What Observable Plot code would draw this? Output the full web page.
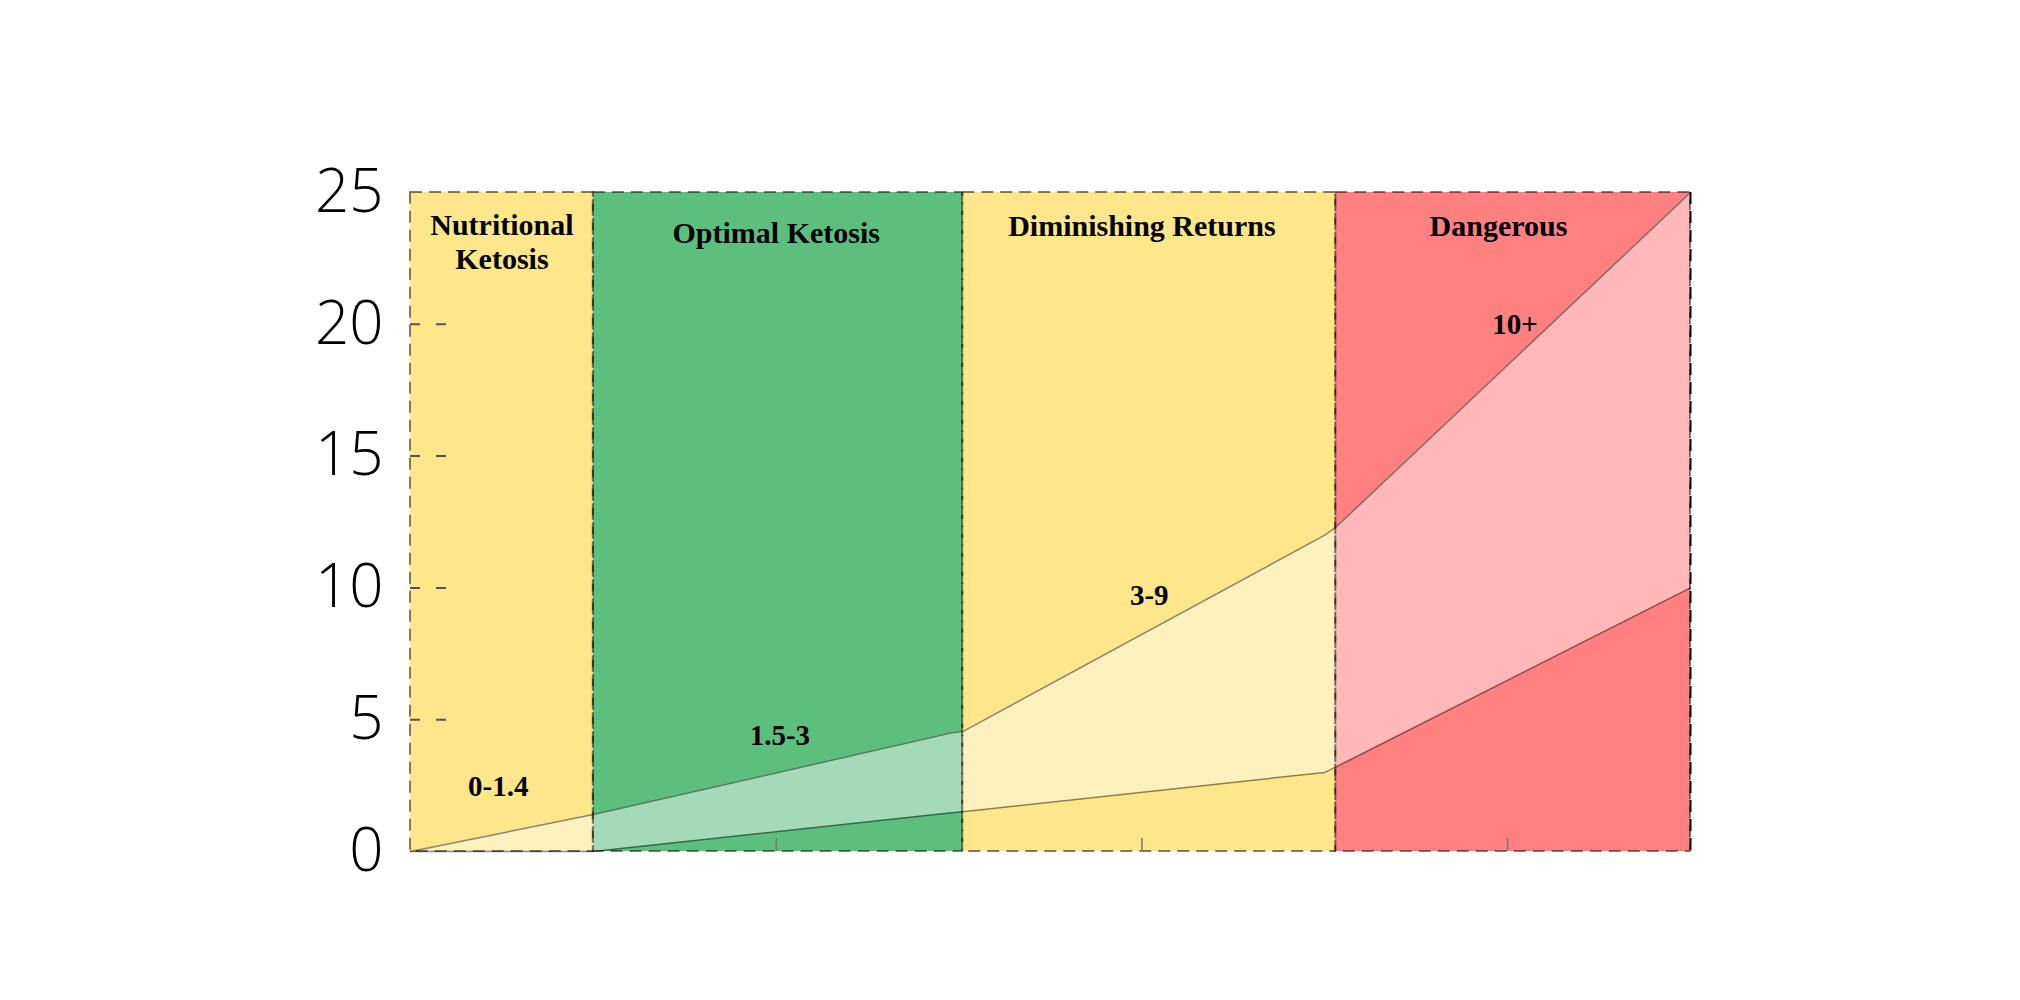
<!DOCTYPE html>
<html>
<head>
<meta charset="utf-8">
<script src="https://cdn.jsdelivr.net/npm/d3@7"></script>
<script src="https://cdn.jsdelivr.net/npm/@observablehq/plot@0.6"></script>
<style>
  html, body { margin: 0; padding: 0; background: #fff; }
</style>
</head>
<body>
<div id="chart"></div>
<script>
// ---- data ----
const xDomain = [0, 3.5];
const yDomain = [0, 25];
const bandNames = ["Nutritional\nKetosis", "Optimal Ketosis", "Diminishing Returns", "Dangerous"];
const bandStart = [0, 0.5, 1.51, 2.53];
const bandEnd = [0.5, 1.51, 2.53, 3.5];
const bandColors = ["#fee78a", "#5dbf7e", "#fee78a", "#ff8080"];
const bandLabelX = [0.25, 1.0, 2.0, 2.975];
const bandLabelY = [23.14, 23.5, 23.77, 23.77];
const rangeLabels = ["0-1.4", "1.5-3", "3-9", "10+"];
const rangeLabelX = [0.24, 1.01, 2.02, 3.02];
const rangeLabelY = [2.45, 4.4, 9.7, 20];
const curveX = [0, 0.5, 1.48, 1.51, 2.50, 2.53, 3.5];
const upperY = [0, 1.4, 4.5, 4.55, 12, 12.3, 25];
const lowerY = [0, 0, 1.47, 1.51, 3, 3.2, 10];
const yTickValues = [0, 5, 10, 15, 20, 25];
const yInnerTicks = [5, 10, 15, 20];
const xTickValues = [1, 2, 3];

// ---- tables built from the arrays ----
const bands = bandNames.map((name, i) => ({
  name, x1: bandStart[i], x2: bandEnd[i], color: bandColors[i],
  lx: bandLabelX[i], ly: bandLabelY[i],
  range: rangeLabels[i], rx: rangeLabelX[i], ry: rangeLabelY[i]
}));
const curve = curveX.map((x, i) => ({x, lo: lowerY[i], hi: upperY[i]}));

const serif = "'Liberation Serif', 'Times New Roman', serif";

const chart = Plot.plot({
  width: 2020,
  height: 1000,
  marginLeft: 410,
  marginRight: 330,
  marginTop: 192,
  marginBottom: 149,
  style: {background: "white"},
  x: {domain: xDomain},
  y: {domain: yDomain},
  marks: [
    Plot.rect(bands, {x1: "x1", x2: "x2", y1: yDomain[0], y2: yDomain[1], fill: "color", inset: 0}),
    Plot.areaY(curve, {x: "x", y1: "lo", y2: "hi", fill: "white", fillOpacity: 0.44}),
    Plot.line(curve, {x: "x", y: "hi", stroke: "black", strokeOpacity: 0.45, strokeWidth: 1.5}),
    Plot.line(curve, {x: "x", y: "lo", stroke: "black", strokeOpacity: 0.45, strokeWidth: 1.5}),
    Plot.rect(bands, {x1: "x1", x2: "x2", y1: yDomain[0], y2: yDomain[1], fill: "none", stroke: "black", strokeOpacity: 0.5, strokeWidth: 2, strokeDasharray: "12,7", inset: 0}),
    Plot.ruleX([xDomain[1]], {stroke: "black", strokeWidth: 2, strokeDasharray: "12,7"}),
    Plot.axisY({ticks: yTickValues, tickSize: 0, tickPadding: 27, fontSize: 60, fontFamily: "'Open Sans', sans-serif", fontWeight: 300, fill: "black"}),
    Plot.axisY({ticks: yInnerTicks, tickSize: 36, dx: 36, tickFormat: () => "", stroke: "#555", strokeWidth: 2, strokeDasharray: "10,16"}),
    Plot.axisX({ticks: xTickValues, tickSize: 13, dy: -13, tickFormat: () => "", stroke: "#777", strokeWidth: 1.5}),
    Plot.text(bands, {x: "lx", y: "ly", text: "name", fontFamily: serif, fontWeight: "bold", fontSize: 30, fill: "black", lineHeight: 1.12}),
    Plot.text(bands, {x: "rx", y: "ry", text: "range", fontFamily: serif, fontWeight: "bold", fontSize: 29, fill: "black"})
  ]
});
document.getElementById("chart").appendChild(chart);
</script>
</body>
</html>
